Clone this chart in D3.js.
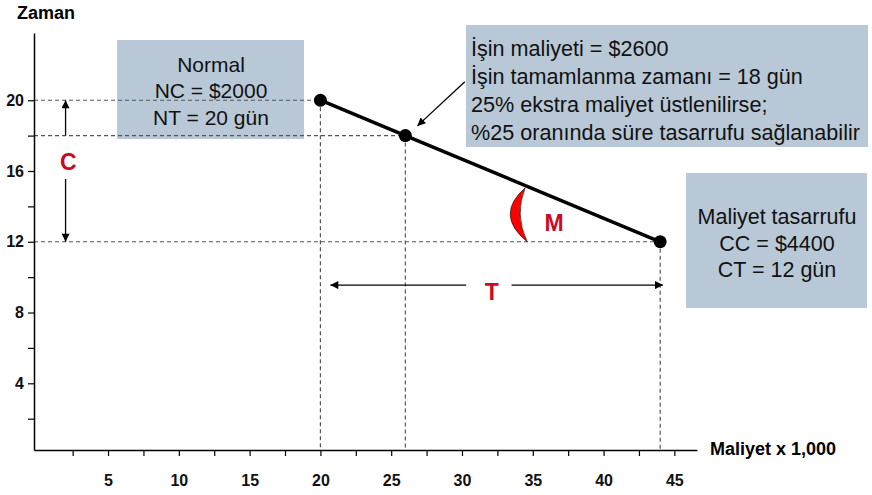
<!DOCTYPE html>
<html>
<head>
<meta charset="utf-8">
<script src="https://cdn.jsdelivr.net/npm/d3@7"></script>
<style>
  body { margin: 0; background: #fff; }
  text { font-family: Arial, "Liberation Sans", sans-serif; }
</style>
</head>
<body>
<script>
// data: cost (x1000) vs time (days)
var costs = [20, 26, 44];
var times = [20, 18, 12];
var xTickValues = [2.5, 5, 7.5, 10, 12.5, 15, 17.5, 20, 22.5, 25, 27.5, 30, 32.5, 35, 37.5, 40, 42.5, 45];
var xTickLabels = [5, 10, 15, 20, 25, 30, 35, 40, 45];
var yTickValues = [2, 4, 6, 8, 10, 12, 14, 16, 18, 20];
var yTickLabels = [4, 8, 12, 16, 20];

var normalLines = ["Normal", "NC = $2000", "NT = 20 gün"];
var infoLines = ["İşin maliyeti = $2600", "İşin tamamlanma zamanı = 18 gün", "25% ekstra maliyet üstlenilirse;", "%25 oranında süre tasarrufu sağlanabilir"];
var crashLines = ["Maliyet tasarrufu", "CC = $4400", "CT = 12 gün"];

var width = 872;
var height = 495;
var boxFill = "#b9c8d6";
var red = "#cc0a22";

var svg = d3.select("body")
  .append("svg")
  .attr("width", width)
  .attr("height", height);

// scales
var x = d3.scaleLinear().domain([-0.23, 46.6]).range([34, 697]);
var y = d3.scaleLinear().domain([0.23, 23.8]).range([450, 33]);

// arrow marker
svg.append("defs").append("marker")
  .attr("id", "head")
  .attr("viewBox", "0 0 10 10")
  .attr("refX", 10)
  .attr("refY", 5)
  .attr("markerUnits", "userSpaceOnUse")
  .attr("markerWidth", 9)
  .attr("markerHeight", 8)
  .attr("orient", "auto")
  .append("path")
  .attr("d", "M0,0 L10,5 L0,10 z")
  .attr("fill", "#000");

// text boxes
function textBox(x0, y0, w, h, lines, anchor, tx, ty, lh, fs) {
  svg.append("rect")
    .attr("x", x0).attr("y", y0)
    .attr("width", w).attr("height", h)
    .attr("fill", boxFill);
  svg.append("g").selectAll("text")
    .data(lines)
    .enter().append("text")
    .attr("x", tx)
    .attr("y", function (d, i) { return ty + i * lh; })
    .attr("text-anchor", anchor)
    .attr("font-size", fs)
    .attr("fill", "#111")
    .text(function (d) { return d; });
}
textBox(117, 40, 187, 99, normalLines, "middle", 211, 71.5, 26.5, 21);
textBox(466, 25, 402, 122, infoLines, "start", 471, 56, 28, 21.6);
textBox(686, 173, 181, 135, crashLines, "middle", 777, 224, 26.5, 21.5);

// dashed guide lines
var guides = svg.append("g")
  .attr("stroke", "#555")
  .attr("stroke-width", 1.2)
  .attr("stroke-dasharray", "4,3");
costs.forEach(function (c, i) {
  guides.append("line")
    .attr("x1", x.range()[0]).attr("x2", x(c))
    .attr("y1", y(times[i])).attr("y2", y(times[i]));
  guides.append("line")
    .attr("x1", x(c)).attr("x2", x(c))
    .attr("y1", y(times[i])).attr("y2", y.range()[0]);
});

// axes
var xAxis = d3.axisBottom(x)
  .tickValues(xTickValues)
  .tickSize(6)
  .tickSizeOuter(0)
  .tickPadding(19)
  .tickFormat(function (d) { return xTickLabels.indexOf(d) >= 0 ? d : ""; });
var gx = svg.append("g")
  .attr("transform", "translate(0," + y.range()[0] + ")")
  .call(xAxis);

var yAxis = d3.axisLeft(y)
  .tickValues(yTickValues)
  .tickSize(6)
  .tickSizeOuter(0)
  .tickPadding(4)
  .tickFormat(function (d) { return yTickLabels.indexOf(d) >= 0 ? d : ""; });
var gy = svg.append("g")
  .attr("transform", "translate(" + x.range()[0] + ",0)")
  .call(yAxis);

[gx, gy].forEach(function (g) {
  g.select(".domain").attr("stroke", "#000").attr("stroke-width", 1.5);
  g.selectAll(".tick line").attr("stroke", "#000").attr("stroke-width", 1.2);
  g.selectAll(".tick text")
    .attr("font-size", 16)
    .attr("font-weight", "bold")
    .attr("font-family", "Arial, 'Liberation Sans', sans-serif")
    .attr("fill", "#111");
});

// axis titles
svg.append("text")
  .attr("x", 17).attr("y", 18.5)
  .attr("font-size", 18).attr("font-weight", "bold")
  .text("Zaman");
svg.append("text")
  .attr("x", 710).attr("y", 455)
  .attr("font-size", 18).attr("font-weight", "bold")
  .text("Maliyet x 1,000");

// cost-time line and points
var line = d3.line()
  .x(function (d, i) { return x(costs[i]); })
  .y(function (d, i) { return y(times[i]); });
svg.append("path")
  .datum(costs)
  .attr("d", line)
  .attr("fill", "none")
  .attr("stroke", "#000")
  .attr("stroke-width", 3.5);
svg.selectAll(".pt")
  .data(costs)
  .enter().append("circle")
  .attr("class", "pt")
  .attr("cx", function (d) { return x(d); })
  .attr("cy", function (d, i) { return y(times[i]); })
  .attr("r", 6.5)
  .attr("fill", "#000");

// arrows
function arrow(x1, y1, x2, y2) {
  svg.append("line")
    .attr("x1", x(x1)).attr("y1", y(y1))
    .attr("x2", x(x2)).attr("y2", y(y2))
    .attr("stroke", "#000")
    .attr("stroke-width", 1.3)
    .attr("marker-end", "url(#head)");
}
arrow(2, 18, 2, 20);
arrow(2, 15.55, 2, 12);
arrow(30.3, 9.55, 20.7, 9.55);
arrow(33.5, 9.55, 44.2, 9.55);
arrow(30.2, 21.05, 26.85, 18.55);

// crescent angle mark
var vx = x(costs[2]), vy = y(times[2]);
svg.append("path")
  .attr("d", "M" + (vx - 135) + "," + (vy - 54) +
    " Q" + (vx - 166) + "," + (vy - 27) + " " + (vx - 133) + "," + vy +
    " Q" + (vx - 146) + "," + (vy - 27) + " " + (vx - 135) + "," + (vy - 54) + " Z")
  .attr("fill", "#ff0000")
  .attr("stroke", "#000")
  .attr("stroke-width", 0.6);

// red labels
function redLabel(cx, cy, t) {
  svg.append("text")
    .attr("x", x(cx)).attr("y", y(cy))
    .attr("text-anchor", "middle")
    .attr("font-size", 23)
    .attr("font-weight", "bold")
    .attr("fill", red)
    .text(t);
}
redLabel(2.2, 16.05, "C");
redLabel(32.1, 8.7, "T");
redLabel(36.5, 12.59, "M");
</script>
</body>
</html>
